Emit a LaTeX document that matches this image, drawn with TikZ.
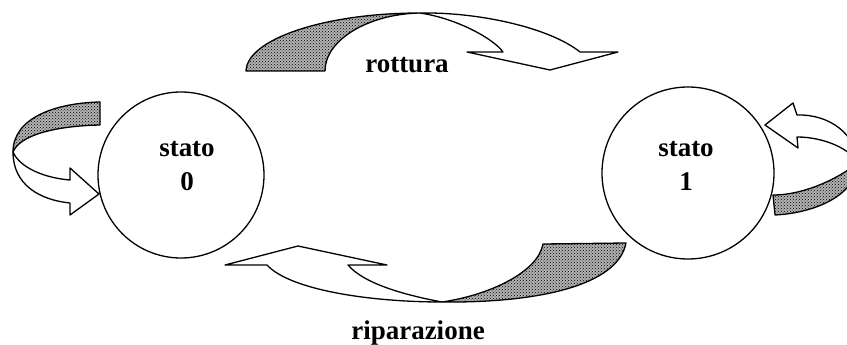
\documentclass[tikz,border=0pt]{standalone}
\usepackage{fontspec}
\setmainfont{Liberation Serif}
\usetikzlibrary{patterns}
\tikzset{
  ln/.style={line width=1.3pt, line join=round},
  shade/.style={ln, draw=black, preaction={fill=gray!60}, pattern=crosshatch dots, pattern color=black},
  white/.style={ln, draw=black, fill=white},
  state/.style={circle, draw=black, line width=1.3pt, inner sep=0pt},
  lbl/.style={font=\fontsize{27}{30}\selectfont\bfseries, inner sep=0pt, anchor=base}
}
\begin{document}
\begin{tikzpicture}[x=1pt,y=-1pt]
\useasboundingbox (0,0) rectangle (847,345);
\begin{scope}
\clip (0,0) rectangle (847,345);
% states
\node[state, minimum size=166pt] (s0) at (181,175) {};
\node[state, minimum size=172pt] (s1) at (688,173) {};
\node[lbl] (t0a) at (187,157) {stato};
\node[lbl] (t0b) at (187,190) {0};
\node[lbl] (t1a) at (686,157) {stato};
\node[lbl] (t1b) at (686,190) {1};
% top arrow (rottura)
\coordinate (T1) at (420,13);
\draw[shade] (246,71) .. controls (247,39) and (325,13) .. (T1)
   .. controls (368,14) and (325,40) .. (325,71) -- cycle;
\draw[white] (T1) .. controls (480,12) and (550,28) .. (580,52)
   -- (618,52) -- (550,70) -- (467,52) -- (503,52)
   .. controls (493,38) and (455,18) .. (T1) -- cycle;
\node[lbl] (rot) at (407,73) {rottura};
% bottom arrow (riparazione)
\coordinate (T2) at (442,302);
\draw[shade] (T2) .. controls (540,303) and (618,285) .. (626,243)
   -- (543,244) .. controls (538,272) and (490,295) .. (T2) -- cycle;
\draw[white] (T2) .. controls (370,302) and (290,290) .. (267,265)
   -- (225,265) -- (298,246) -- (387,265) -- (348,265)
   .. controls (365,285) and (410,296) .. (T2) -- cycle;
\node[lbl] (rip) at (418,339) {riparazione};
% left self loop
\coordinate (T3) at (13,152);
\draw[shade] (100,102) .. controls (55,103) and (13,118) .. (T3)
   .. controls (20,135) and (55,126) .. (100,125) -- cycle;
\draw[white] (T3) .. controls (13,185) and (40,200) .. (70,203)
   -- (70,215) -- (99,194) -- (70,168) -- (70,180)
   .. controls (45,178) and (20,168) .. (T3) -- cycle;
% right self loop
\coordinate (T4) at (857,163);
\draw[shade] (T4) .. controls (848,172) and (810,195) .. (773,195)
   -- (775,215) .. controls (815,213) and (857,195) .. (T4) -- cycle;
\draw[white] (T4) .. controls (857,135) and (830,114) .. (797,115)
   -- (793,103) -- (765,125) -- (798,148) -- (797,137)
   .. controls (825,137) and (852,150) .. (T4) -- cycle;
\end{scope}
\end{tikzpicture}
\end{document}
